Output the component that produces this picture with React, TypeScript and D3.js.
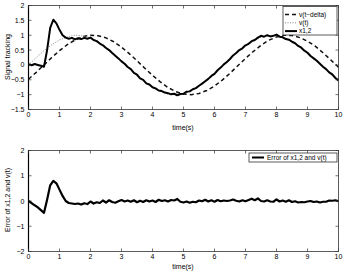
import React from "react";
import * as d3 from "d3";

// time axis samples
const tFine = d3.range(0, 101).map(i => i / 10); // 0..10 step 0.1
const tCoarse = d3.range(0, 41).map(i => i / 4); // 0..10 step 0.25

// v(t - delta), dashed, read at 0.25 s
const vDelayed = [
  -0.48, -0.25, 0, 0.25, 0.48, 0.68, 0.84, 0.95, 1.0, 0.98, 0.91, 0.78, 0.6, 0.38,
  0.14, -0.11, -0.35, -0.57, -0.76, -0.9, -0.98, -1.0, -0.96, -0.86, -0.71, -0.51,
  -0.28, -0.03, 0.22, 0.45, 0.66, 0.83, 0.94, 1.0, 0.99, 0.92, 0.8, 0.63, 0.41, 0.17,
  -0.08
];

// v(t), dotted, read at 0.25 s
const vRef = [
  0, 0.25, 0.48, 0.68, 0.84, 0.95, 1.0, 0.98, 0.91, 0.78, 0.6, 0.38, 0.14, -0.11,
  -0.35, -0.57, -0.76, -0.89, -0.98, -1.0, -0.96, -0.86, -0.71, -0.51, -0.28, -0.03,
  0.22, 0.45, 0.66, 0.83, 0.94, 0.99, 0.99, 0.92, 0.8, 0.62, 0.41, 0.17, -0.08, -0.32,
  -0.54
];

// x1,2 solid, read at 0.1 s
const x12 = [
  0.02, -0.01, 0.03, 0.0, -0.03, -0.06, 0.5, 1.25, 1.52, 1.4,
  1.18, 1.0, 0.92, 0.88, 0.91, 0.86, 0.9, 0.87, 0.91, 0.88,
  0.92, 0.84, 0.8, 0.72, 0.66, 0.57, 0.5, 0.4, 0.31, 0.22,
  0.12, 0.04, -0.07, -0.14, -0.27, -0.33, -0.45, -0.5, -0.62, -0.66,
  -0.75, -0.79, -0.86, -0.88, -0.93, -0.95, -0.99, -0.97, -1.02, -0.98,
  -0.97, -0.9, -0.89, -0.82, -0.78, -0.7, -0.63, -0.55, -0.47, -0.37,
  -0.3, -0.18, -0.09, 0.02, 0.1, 0.2, 0.32, 0.4, 0.5, 0.56,
  0.66, 0.71, 0.8, 0.84, 0.92, 0.98, 0.95, 1.0, 0.96, 0.98,
  1.02, 0.95, 0.93, 0.87, 0.85, 0.78, 0.73, 0.64, 0.58, 0.48,
  0.41, 0.3, 0.22, 0.14, 0.04, -0.06, -0.14, -0.25, -0.32, -0.44,
  -0.52
];

// error of x1,2 and v(t), read at 0.1 s
const err = [
  0.0, -0.08, -0.17, -0.25, -0.36, -0.47, 0.05, 0.62, 0.8, 0.7,
  0.45, 0.2, 0.0, -0.08, -0.1, -0.12, -0.1, -0.14, -0.09, -0.12,
  -0.02, -0.1, -0.05, -0.08, 0.02, -0.06, 0.03, -0.04, -0.07, -0.01,
  0.04, -0.02, 0.02, -0.03, 0.03, -0.05, 0.01, -0.04, 0.03, -0.02,
  0.02, -0.04, 0.05, 0.0, 0.03, -0.02, 0.04, 0.02, 0.08, -0.03,
  -0.06, -0.02, -0.07, -0.03, -0.05, 0.02, -0.01, 0.05, -0.02, 0.03,
  -0.03, 0.04, -0.01, 0.02, 0.0, 0.02, 0.06, 0.01, -0.02, 0.03,
  -0.01, 0.04, 0.09, 0.03, 0.1, 0.0, -0.02, 0.03, -0.02, -0.03,
  0.06, -0.02, 0.02, -0.03, 0.03, -0.04, -0.01, -0.06, -0.04, -0.05,
  -0.02, 0.0, -0.04, -0.02, -0.06, -0.03, -0.03, 0.02, 0.01, 0.03,
  -0.01
];

const xTicks = [0, 1, 2, 3, 4, 5, 6, 7, 8, 9, 10];
const topYTicks = [-1.5, -1, -0.5, 0, 0.5, 1, 1.5, 2];
const botYTicks = [-2, -1, 0, 1, 2];
const topLegend = ["v(t\u2212delta)", "v(t)", "x1,2"];
const botLegend = "Error of x1,2 and v(t)";

const font = "'Liberation Sans', Arial, sans-serif";
const left = 28.5;
const right = 338.5;

const x = d3.scaleLinear().domain([0, 10]).range([left, right]);
const yTop = d3.scaleLinear().domain([-1.5, 2]).range([109.5, 5.5]);
const yBot = d3.scaleLinear().domain([-2, 2]).range([251.5, 150.5]);

const fmt = (v: number) => String(v).replace("-", "\u2212");

const Frame = ({ y, ticks, top, bottom }: any) => (
  <g>
    <rect x={left} y={top} width={right - left} height={bottom - top} fill="none" stroke="#333" strokeWidth={0.8} />
    <line x1={left} x2={left} y1={top} y2={bottom} stroke="#000" strokeWidth={1.2} />
    {xTicks.map(t => (
      <g key={"x" + t}>
        <line x1={x(t)} x2={x(t)} y1={bottom} y2={bottom - 3} stroke="#333" strokeWidth={0.7} />
        <line x1={x(t)} x2={x(t)} y1={top} y2={top + 3} stroke="#333" strokeWidth={0.7} />
        <text x={x(t)} y={bottom + 7.5} fontSize={7} textAnchor="middle" fontFamily={font}>{t}</text>
      </g>
    ))}
    {ticks.map((t: number) => (
      <g key={"y" + t}>
        <line x1={left} x2={left + 3} y1={y(t)} y2={y(t)} stroke="#333" strokeWidth={0.7} />
        <line x1={right} x2={right - 3} y1={y(t)} y2={y(t)} stroke="#333" strokeWidth={0.7} />
        <text x={left - 4} y={y(t) + 2.5} fontSize={7} textAnchor="end" fontFamily={font}>{fmt(t)}</text>
      </g>
    ))}
  </g>
);

export default function App() {
  const lineTop = d3.line<number>().x((d, i) => x(tCoarse[i])).y(d => yTop(d));
  const lineFine = d3.line<number>().x((d, i) => x(tFine[i])).y(d => yTop(d));
  const lineErr = d3.line<number>().x((d, i) => x(tFine[i])).y(d => yBot(d));

  return (
    <svg width={346} height={272} style={{ position: "absolute", left: 0, top: 0, background: "#fff" }}>
      <rect width={346} height={272} fill="#fff" />
      {/* top panel */}
      <path d={lineTop(vDelayed) || ""} fill="none" stroke="#111" strokeWidth={1.5} strokeDasharray="4,3" />
      <path d={lineTop(vRef) || ""} fill="none" stroke="#888" strokeWidth={1} strokeDasharray="1,1.5" />
      <path d={lineFine(x12) || ""} fill="none" stroke="#000" strokeWidth={2} strokeLinejoin="round" />
      <Frame y={yTop} ticks={topYTicks} top={5.5} bottom={109.5} />
      <text x={183} y={130} fontSize={7} textAnchor="middle" fontFamily={font}>time(s)</text>
      <text transform="translate(10,57) rotate(-90)" fontSize={7} textAnchor="middle" fontFamily={font}>Signal tracking</text>

      <g>
        <rect x={283} y={6.5} width={54} height={28.5} fill="#fff" stroke="#333" strokeWidth={0.8} />
        {topLegend.map((lab, i) => {
          const ly = 14.5 + i * 8.3;
          const styles = [
            { stroke: "#111", w: 1.5, dash: "4,3" },
            { stroke: "#888", w: 1, dash: "1,1.5" },
            { stroke: "#000", w: 2, dash: "none" }
          ][i];
          return (
            <g key={lab}>
              <line x1={285} x2={297} y1={ly} y2={ly} stroke={styles.stroke} strokeWidth={styles.w} strokeDasharray={styles.dash} />
              <text x={299} y={ly + 2.3} fontSize={6.5} fontFamily={font}>{lab}</text>
            </g>
          );
        })}
      </g>

      {/* bottom panel */}
      <path d={lineErr(err) || ""} fill="none" stroke="#000" strokeWidth={2.2} strokeLinejoin="round" />
      <Frame y={yBot} ticks={botYTicks} top={150.5} bottom={251.5} />
      <text x={183} y={269} fontSize={7} textAnchor="middle" fontFamily={font}>time(s)</text>
      <text transform="translate(10,200) rotate(-90)" fontSize={7} textAnchor="middle" fontFamily={font}>Error of x1,2 and v(t)</text>

      <g>
        <rect x={249} y={153} width={88} height={9} fill="#fff" stroke="#333" strokeWidth={0.8} />
        <line x1={252} x2={264} y1={157.5} y2={157.5} stroke="#000" strokeWidth={2} />
        <text x={267} y={159.8} fontSize={6.5} fontFamily={font}>{botLegend}</text>
      </g>
    </svg>
  );
}
